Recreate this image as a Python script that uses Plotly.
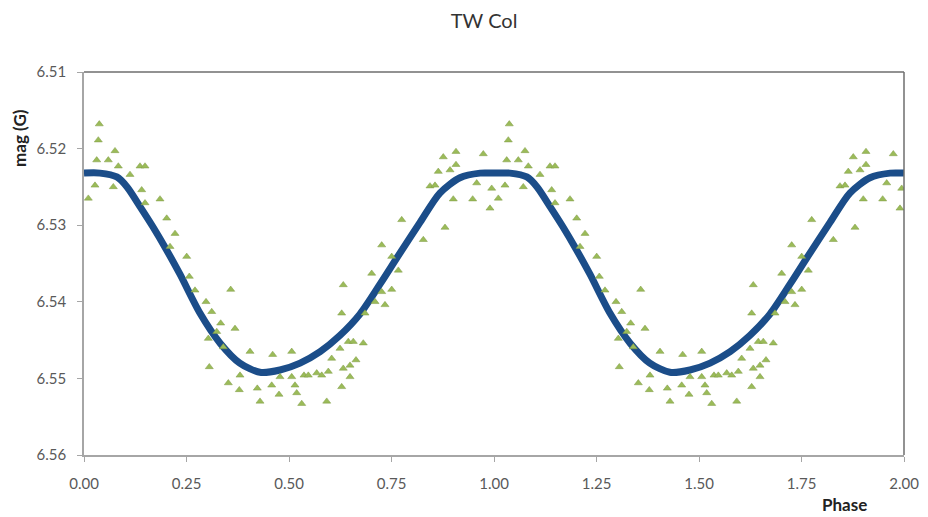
import plotly.graph_objects as go

# Model light curve (phase 0..1)
model_phase = [0.000, 0.039, 0.080, 0.105, 0.137, 0.168, 0.200, 0.234, 0.283, 0.332,
               0.380, 0.429, 0.478, 0.527, 0.576, 0.624, 0.673, 0.722, 0.771,
               0.820, 0.868, 0.917, 0.966, 1.000]
model_mag = [6.5232, 6.5232, 6.5237, 6.5250, 6.5276, 6.5302, 6.5331, 6.5364, 6.5415, 6.5454,
             6.5480, 6.5492, 6.5489, 6.5480, 6.5465, 6.5444, 6.5416, 6.5377, 6.5336,
             6.5296, 6.5258, 6.5238, 6.5232, 6.5232]

# Observations (phase 0..1), green triangles
obs_phase = [0.0373, 0.0349, 0.0756, 0.0310, 0.0593, 0.1366, 0.1488, 0.0837, 0.1122, 0.0268,
             0.0715, 0.1407, 0.0105, 0.1854, 0.1488, 0.2017, 0.2220, 0.2098, 0.2505,
             0.2568, 0.2707, 0.3578, 0.2976, 0.3115, 0.3334, 0.3683, 0.3237, 0.3032, 0.3398,
             0.4049, 0.4602, 0.3056, 0.3805, 0.3520, 0.3788, 0.4227, 0.4293, 0.4578, 0.4756,
             0.4780, 0.5066, 0.5146, 0.5188, 0.5310, 0.5066, 0.5366, 0.5471, 0.5676, 0.5798,
             0.5959, 0.5920, 0.6041, 0.6244, 0.6285, 0.6324, 0.6488, 0.6488, 0.6634, 0.6446,
             0.6568, 0.6812, 0.6324, 0.6285, 0.7017, 0.7261, 0.7261, 0.7505, 0.7341, 0.7098,
             0.6854, 0.7505, 0.7666,
             0.9073, 0.8763, 0.9739, 0.9073, 0.8927, 0.8641, 0.8439, 0.8561, 0.9578, 0.9944,
             0.9007, 0.9480, 0.9902, 0.7749, 0.8805, 0.8276]
obs_mag = [6.5168, 6.5189, 6.5203, 6.5215, 6.5215, 6.5223, 6.5223, 6.5223, 6.5234, 6.5248,
           6.5250, 6.5254, 6.5265, 6.5266, 6.5271, 6.5291, 6.5311, 6.5328, 6.5341,
           6.5367, 6.5385, 6.5384, 6.5400, 6.5413, 6.5428, 6.5435, 6.5439, 6.5448, 6.5459,
           6.5465, 6.5469, 6.5485, 6.5496, 6.5506, 6.5515, 6.5513, 6.5530, 6.5509, 6.5521,
           6.5498, 6.5498, 6.5509, 6.5519, 6.5533, 6.5465, 6.5496, 6.5496, 6.5493, 6.5496,
           6.5491, 6.5530, 6.5474, 6.5461, 6.5511, 6.5487, 6.5483, 6.5498, 6.5476, 6.5452,
           6.5452, 6.5454, 6.5378, 6.5415, 6.5363, 6.5326, 6.5387, 6.5384, 6.5404, 6.5400,
           6.5415, 6.5341, 6.5359,
           6.5204, 6.5211, 6.5207, 6.5221, 6.5228, 6.5230, 6.5249, 6.5248, 6.5245, 6.5252,
           6.5266, 6.5266, 6.5278, 6.5293, 6.5303, 6.5319]

x_ticks = [0.0, 0.25, 0.5, 0.75, 1.0, 1.25, 1.5, 1.75, 2.0]
y_ticks = [6.51, 6.52, 6.53, 6.54, 6.55, 6.56]

# phase-folded light curve shown over two cycles
mx = model_phase + [p + 1 for p in model_phase[1:]]
my = model_mag + model_mag[1:]
ox = obs_phase + [p + 1 for p in obs_phase]
oy = obs_mag + obs_mag

FONT = "Lato, Open Sans, sans-serif"

fig = go.Figure()
fig.add_trace(go.Scatter(x=mx, y=my, mode="lines",
                         line=dict(color="#1b4d89", width=7, shape="spline", smoothing=0.8),
                         showlegend=False, hoverinfo="skip"))
fig.add_trace(go.Scatter(x=ox, y=oy, mode="markers",
                         marker=dict(symbol="triangle-up", size=7, color="#9bbb59",
                                     line=dict(color="#7f9a44", width=0.5)),
                         showlegend=False))

axis_font = dict(family=FONT, size=15, color="#595959")
axis_common = dict(showgrid=False, zeroline=False, showline=True, linecolor="#a6a6a6",
                   linewidth=1.5, ticks="outside", ticklen=5, tickcolor="#a6a6a6",
                   tickfont=axis_font, tickformat=".2f")
fig.update_layout(
    width=928, height=517,
    margin=dict(l=76, r=32, t=64, b=70),
    paper_bgcolor="white", plot_bgcolor="white",
    title=dict(text="TW Col", x=0.513, xanchor="center", y=0.975, yanchor="middle",
               font=dict(family=FONT, size=20, color="#333333")),
    xaxis=dict(range=[0, 2], tickvals=x_ticks, ticklabelstandoff=9, **axis_common),
    yaxis=dict(range=[6.56, 6.51], tickvals=y_ticks, ticklabelstandoff=8, **axis_common),
    shapes=[
        dict(type="line", xref="paper", yref="paper", x0=0, x1=1, y0=1, y1=1,
             line=dict(color="#6e6e6e", width=1.5)),
        dict(type="line", xref="paper", yref="paper", x0=1, x1=1, y0=0, y1=1,
             line=dict(color="#6e6e6e", width=1.5)),
    ],
    annotations=[
        dict(text="<b>mag (G)</b>", textangle=-90, xref="paper", yref="paper",
             x=-0.078, y=0.828, xanchor="center", yanchor="middle", showarrow=False,
             font=dict(family=FONT, size=17, color="#222222")),
        dict(text="<b>Phase</b>", xref="paper", yref="paper",
             x=0.928, y=-0.1305, xanchor="center", yanchor="middle", showarrow=False,
             font=dict(family=FONT, size=17, color="#222222")),
    ],
)

fig.write_html("out.html")
